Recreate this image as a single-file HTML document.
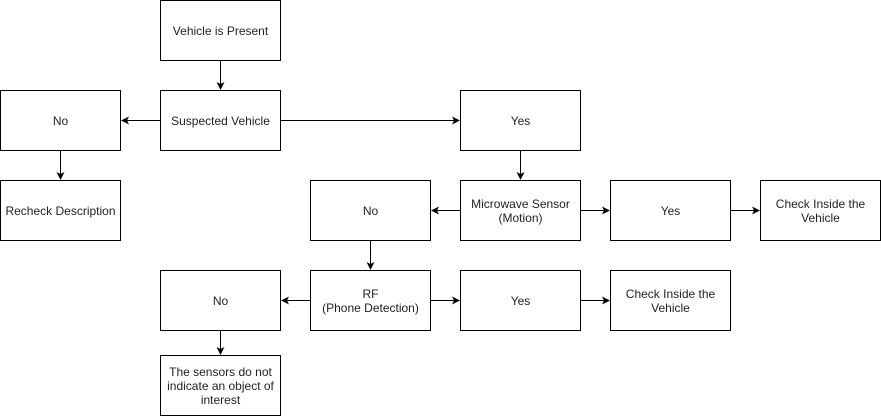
<!DOCTYPE html>
<html><head><meta charset="utf-8"><style>
html,body{margin:0;padding:0;background:#fff;}
svg{display:block;}
text{font-family:"Liberation Sans",Arial,sans-serif;font-size:12px;fill:#222;text-anchor:middle;}
</style></head><body>
<svg width="881" height="416" xmlns="http://www.w3.org/2000/svg">
<defs><marker id="a" markerWidth="10" markerHeight="10" refX="7" refY="4" orient="auto" markerUnits="userSpaceOnUse">
<path d="M0,0 L8,4 L0,8 L2,4 z" fill="#000"/></marker></defs>
<g fill="#fff" stroke="#000" stroke-width="1">
<rect x="160.5" y="0.5" width="120" height="60"/>
<rect x="160.5" y="90.5" width="120" height="60"/>
<rect x="0.5" y="90.5" width="120" height="60"/>
<rect x="0.5" y="180.5" width="120" height="60"/>
<rect x="460.5" y="90.5" width="120" height="60"/>
<rect x="460.5" y="180.5" width="120" height="60"/>
<rect x="310.5" y="180.5" width="120" height="60"/>
<rect x="610.5" y="180.5" width="120" height="60"/>
<rect x="760.5" y="180.5" width="120" height="60"/>
<rect x="310.5" y="270.5" width="120" height="60"/>
<rect x="160.5" y="270.5" width="120" height="60"/>
<rect x="460.5" y="270.5" width="120" height="60"/>
<rect x="610.5" y="270.5" width="120" height="60"/>
<rect x="160.5" y="355.5" width="120" height="60"/>
</g>
<g stroke="#000" stroke-width="1" fill="none" marker-end="url(#a)">
<line x1="220.5" y1="60.5" x2="220.5" y2="89"/>
<line x1="160.5" y1="120.5" x2="122" y2="120.5"/>
<line x1="280.5" y1="120.5" x2="459" y2="120.5"/>
<line x1="60.5" y1="150.5" x2="60.5" y2="179"/>
<line x1="520.5" y1="150.5" x2="520.5" y2="179"/>
<line x1="460.5" y1="210.5" x2="432" y2="210.5"/>
<line x1="580.5" y1="210.5" x2="609" y2="210.5"/>
<line x1="730.5" y1="210.5" x2="759" y2="210.5"/>
<line x1="370.5" y1="240.5" x2="370.5" y2="269"/>
<line x1="310.5" y1="300.5" x2="282" y2="300.5"/>
<line x1="430.5" y1="300.5" x2="459" y2="300.5"/>
<line x1="580.5" y1="300.5" x2="609" y2="300.5"/>
<line x1="220.5" y1="330.5" x2="220.5" y2="354"/>
</g>
<text x="220.5" y="35">Vehicle is Present</text>
<text x="220.5" y="125">Suspected Vehicle</text>
<text x="60.5" y="125">No</text>
<text x="60.5" y="215">Recheck Description</text>
<text x="520.5" y="125">Yes</text>
<text x="520.5" y="208">Microwave Sensor</text>
<text x="520.5" y="222">(Motion)</text>
<text x="370.5" y="215">No</text>
<text x="670.5" y="215">Yes</text>
<text x="820.5" y="208">Check Inside the</text>
<text x="820.5" y="222">Vehicle</text>
<text x="370.5" y="298">RF</text>
<text x="370.5" y="312">(Phone Detection)</text>
<text x="220.5" y="305">No</text>
<text x="520.5" y="305">Yes</text>
<text x="670.5" y="298">Check Inside the</text>
<text x="670.5" y="312">Vehicle</text>
<text x="220.5" y="376">The sensors do not</text>
<text x="220.5" y="390">indicate an object of</text>
<text x="220.5" y="404">interest</text>
</svg>
</body></html>
